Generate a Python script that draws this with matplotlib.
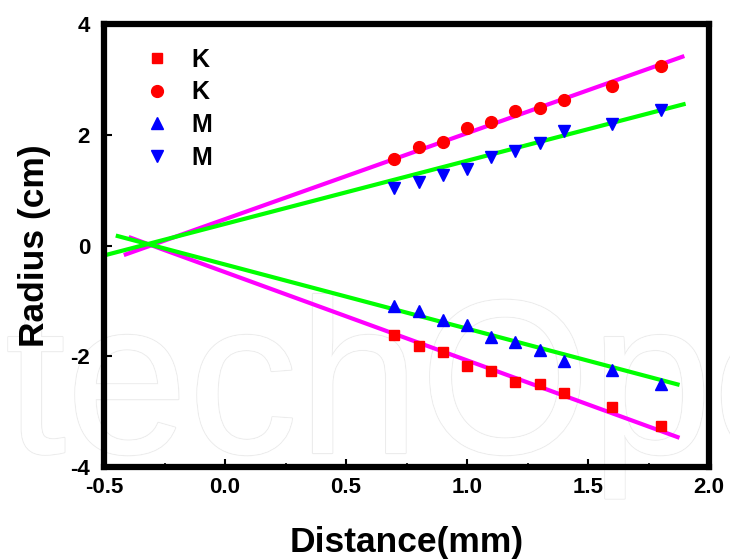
import matplotlib
matplotlib.use("Agg")
import matplotlib.pyplot as plt
import matplotlib.patheffects as pe
import numpy as np

plt.rcParams['font.family'] = ['Liberation Sans', 'DejaVu Sans']

# Data
x = [0.7, 0.8, 0.9, 1.0, 1.1, 1.2, 1.3, 1.4, 1.6, 1.8]
k_square = [-1.62, -1.82, -1.92, -2.17, -2.27, -2.47, -2.51, -2.67, -2.92, -3.26]
k_circle = [1.56, 1.78, 1.87, 2.13, 2.23, 2.42, 2.48, 2.63, 2.88, 3.24]
m_up = [-1.09, -1.19, -1.34, -1.44, -1.65, -1.74, -1.89, -2.09, -2.24, -2.50]
m_down = [1.03, 1.14, 1.28, 1.38, 1.59, 1.70, 1.85, 2.06, 2.20, 2.45]

# Fitted lines: (slope, intercept, x start, x end)
fit_k_up = (1.552, 0.476, -0.41, 1.89)
fit_m_up = (1.14, 0.39, -0.50, 1.895)
fit_m_low = (-1.158, -0.343, -0.443, 1.87)
fit_k_low = (-1.593, -0.481, -0.39, 1.87)

xticks = [-0.5, 0.0, 0.5, 1.0, 1.5, 2.0]
yticks = [-4, -2, 0, 2, 4]

fig = plt.figure(figsize=(7.30, 5.59), dpi=100)
ax = fig.add_axes([104/730, 1-467/559, (709-104)/730, (467-24)/559])
ax.patch.set_alpha(0)

# watermark
fig.text(-178/730, 1-453/559, "IntechOpen", fontsize=158, color='white',
         zorder=-5, va='baseline', ha='left',
         path_effects=[pe.withStroke(linewidth=1.6, foreground='#ececec'),
                       pe.Normal()])

def draw_fit(p, color):
    s, b, x0, x1 = p
    xs = np.array([x0, x1])
    ax.plot(xs, s*xs + b, color=color, lw=3, zorder=2)

draw_fit(fit_k_up, '#ff00ff')
draw_fit(fit_k_low, '#ff00ff')
draw_fit(fit_m_up, '#00ff00')
draw_fit(fit_m_low, '#00ff00')

ax.plot(x, k_square, 's', color='#ff0000', ms=7.5, ls='none', label='K', zorder=3)
ax.plot(x, k_circle, 'o', color='#ff0000', ms=8.5, ls='none', label='K', zorder=3)
ax.plot(x, m_up, '^', color='#0000ff', ms=9, ls='none', label='M', zorder=3)
ax.plot(x, m_down, 'v', color='#0000ff', ms=9, ls='none', label='M', zorder=3)

ax.set_xlim(-0.5, 2.0)
ax.set_ylim(-4, 4)
ax.set_xticks(xticks)
ax.set_yticks(yticks)
ax.set_xticklabels([f"{v:.1f}" for v in xticks])
ax.set_yticklabels([f"{v:d}" for v in yticks])
ax.set_xticks(np.arange(-0.5, 2.01, 0.25), minor=True)
ax.tick_params(which='major', direction='in', length=6, width=1.5,
               labelsize=16)
ax.tick_params(axis='x', which='major', pad=7.5)
ax.tick_params(axis='y', which='major', pad=10)
ax.tick_params(which='minor', direction='in', length=3, width=1.2)
for lab in ax.get_xticklabels() + ax.get_yticklabels():
    lab.set_fontweight('bold')

for sp in ax.spines.values():
    sp.set_linewidth(4.5)

ax.set_xlabel("Distance(mm)", fontsize=25.5, fontweight='bold', labelpad=20)
ax.set_ylabel("Radius (cm)", fontsize=25.5, fontweight='bold', labelpad=14)

leg = ax.legend(loc='upper left', bbox_to_anchor=(0.047, 0.975), frameon=False,
                prop={'weight': 'bold', 'size': 18}, handlelength=1.0,
                handletextpad=0.86, labelspacing=0.35, borderpad=0)

fig.savefig("out.png", dpi=100)
